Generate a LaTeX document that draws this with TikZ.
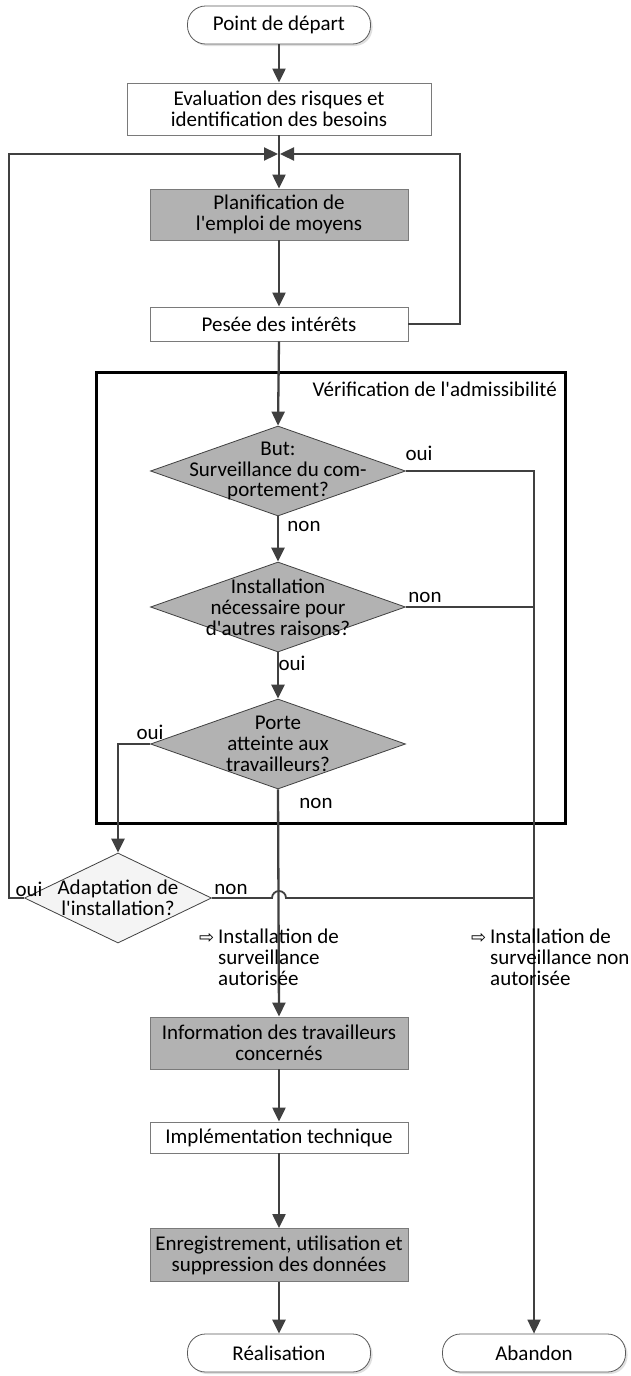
\documentclass[tikz,border=0pt]{standalone}
\usepackage{fontspec}
\setmainfont{Carlito}
\newfontfamily\symf{DejaVu Sans}
\usetikzlibrary{arrows.meta,shapes.geometric,shadows}
\definecolor{conn}{HTML}{404040}
\definecolor{boxc}{HTML}{7A7A7A}
\definecolor{grayf}{HTML}{B2B2B2}
\definecolor{lightf}{HTML}{F4F4F4}
\definecolor{pillc}{HTML}{5A5A5A}
\newcommand{\rarr}{\llap{{\symf\fontsize{18}{18}\selectfont ⇨}\hspace{4pt}}}
\begin{document}
\begin{tikzpicture}[x=1pt,y=-1pt,
  font=\fontsize{21}{20.8}\selectfont,
  mainl/.style={draw=conn, line width=2.3pt},
  thinl/.style={draw=conn, line width=1.8pt},
  arr/.style={-{Triangle[length=14pt,width=13pt]}},
  box/.style={draw=boxc, line width=0.9pt, minimum width=258pt, inner sep=0pt, align=center, text=black},
  pill/.style={draw=pillc, line width=0.8pt, fill=white, rounded corners=18pt, minimum width=183pt, minimum height=38pt, inner sep=0pt,
    drop shadow={shadow xshift=2pt, shadow yshift=-2pt, opacity=0.25}},
  dec/.style={diamond, draw=conn, line width=0.8pt, fill=grayf, minimum width=255pt, minimum height=90pt, inner sep=0pt},
  lbl/.style={inner sep=0pt}
]
\fill[white] (0,0) rectangle (630,1376);
\useasboundingbox (0,0) rectangle (630,1376);

% frame
\node[draw=black, line width=3pt, minimum width=469pt, minimum height=451pt, inner sep=0pt] (frame) at (330.5,597.5) {};
\node[anchor=east, lbl] (vtitle) at (557,389) {Vérification de l\textquotesingle admissibilité};

% nodes
\node[pill] (start) at (279,25) {Point de départ};
\node[box, fill=white, minimum width=304pt, minimum height=52pt] (eval) at (279,109) {Evaluation des risques et\\identification des besoins};
\node[box, fill=grayf, minimum height=51pt] (plan) at (279,214.5) {Planification de\\l\textquotesingle emploi de moyens};
\node[box, fill=white, minimum height=34pt] (pesee) at (279,324) {Pesée des intérêts};

\node[dec, label={[align=center]center:But:\\Surveillance du com-\\portement?}] (d1) at (278,471) {};
\node[dec, label={[align=center]center:Installation\\nécessaire pour\\d\textquotesingle autres raisons?}] (d2) at (278,607) {};
\node[dec, label={[align=center]center:Porte\\atteinte aux\\travailleurs?}] (d3) at (278,744) {};
\node[diamond, draw=conn, line width=0.8pt, fill=lightf, minimum width=187pt, minimum height=90pt, inner sep=0pt,
  label={[align=center]center:Adaptation de\\l\textquotesingle installation?}] (adapt) at (118,898) {};

\node[box, fill=grayf, minimum height=52pt] (info) at (279,1043) {Information des travailleurs\\concernés};
\node[box, fill=white, minimum height=31pt] (impl) at (279,1137.5) {Implémentation technique};
\node[box, fill=grayf, minimum height=53pt] (enr) at (279,1255) {Enregistrement, utilisation et\\suppression des données};
\node[pill] (real) at (279,1353) {Réalisation};
\node[pill] (aband) at (534,1353) {Abandon};

% coordinates
\coordinate (jn) at (279,154);
\coordinate (rl) at (460,154);
\coordinate (ll) at (9,154);

% connectors
\draw[mainl,arr] (start.south) -- (eval.north);
\draw[mainl,arr] (eval.south) -- (plan.north);
\draw[mainl,arr,shorten >=1pt] (pesee.east) -| (rl) -- (jn);
\draw[mainl,arr,shorten >=1pt] (adapt.west) -| (ll) -- (jn);
\draw[mainl,arr] (plan.south) -- (pesee.north);
\draw[mainl,arr] (pesee.south) -- (d1.north);
\draw[mainl,arr] (d1.south) -- (d2.north);
\draw[mainl,arr] (d2.south) -- (d3.north);
\draw[mainl,arr] (d3.west) -| (adapt.north);
\draw[mainl,arr] (d3.south) -- (info.north);
\draw[thinl,arr] (d1.east) -| (aband.north);
\draw[thinl] (d2.east) -- (d2.east -| aband.north);
\draw[thinl] (adapt.east) -- (272,898) arc[start angle=180, end angle=360, radius=7] -- (adapt.east -| aband.north);
\draw[mainl,arr] (info.south) -- (impl.north);
\draw[mainl,arr] (impl.south) -- (enr.north);
\draw[mainl,arr] (enr.south) -- (real.north);

% branch labels
\node[lbl] (l1) at (419,453) {oui};
\node[lbl] (l2) at (304,526) {non};
\node[lbl] (l3) at (425,597) {non};
\node[lbl] (l4) at (292,663) {oui};
\node[lbl] (l5) at (150,732) {oui};
\node[lbl] (l6) at (316,803) {non};
\node[lbl] (l7) at (29,889) {oui};
\node[lbl] (l8) at (231,889) {non};

% notes
\node[anchor=north west, align=left, inner sep=0pt] (n1) at (218,929) {\rarr Installation de\\surveillance\\autorisée};
\node[anchor=north west, align=left, inner sep=0pt] (n2) at (490,929) {\rarr Installation de\\surveillance non\\autorisée};
\end{tikzpicture}
\end{document}
